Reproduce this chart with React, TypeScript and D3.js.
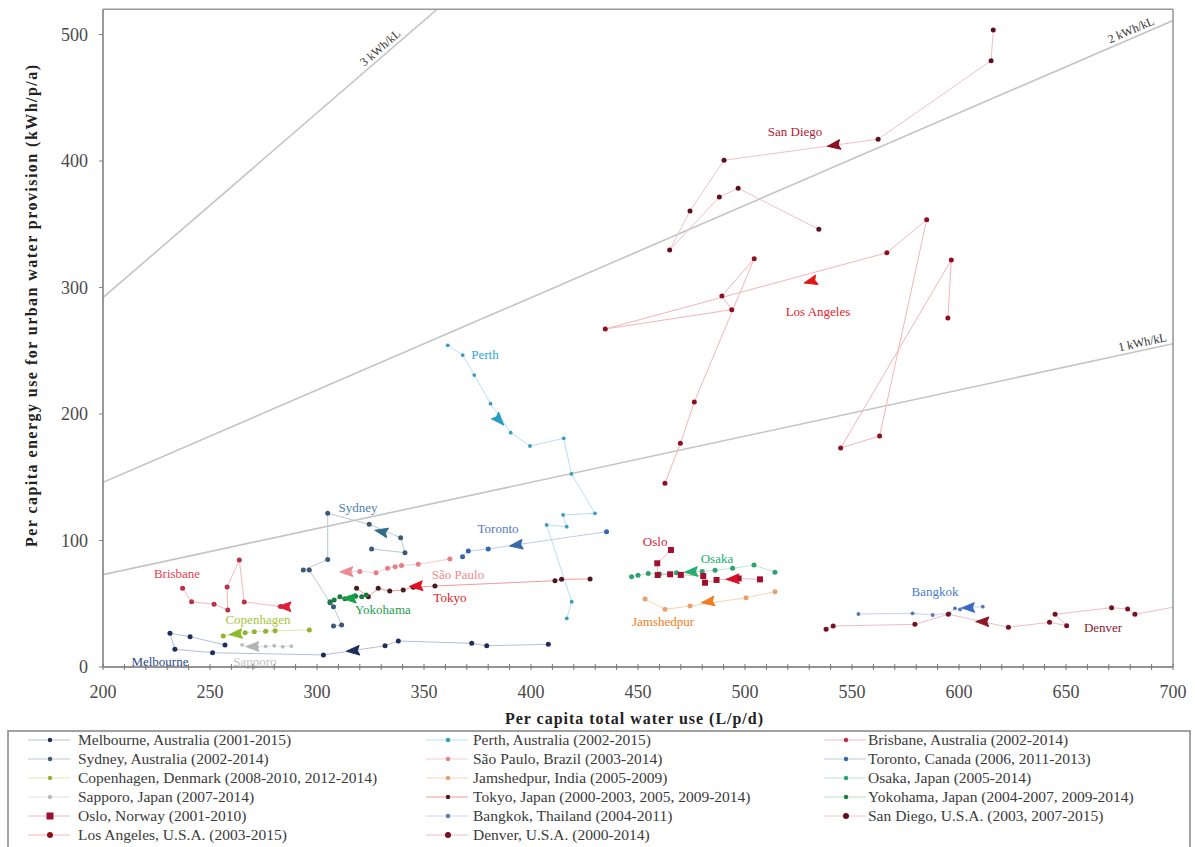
import React from "react";
import * as d3 from "d3";

// ---- axes ----
const xTickValues = [200, 250, 300, 350, 400, 450, 500, 550, 600, 650, 700];
const yTickValues = [0, 100, 200, 300, 400, 500];

// ---- energy-intensity guide lines (energy = factor x water use) ----
const guideFactors = [0.365, 0.73, 1.46];
const guideLabels = ["1 kWh/kL", "2 kWh/kL", "3 kWh/kL"];
const guideLabelAtX = [686.5, 681.8, 332];

// ---- city trajectories: [water use L/p/d, energy kWh/p/a] ----
const melbourne: [number, number][] = [
  [408.1, 17.9], [379.3, 16.8], [372.3, 18.7], [338, 20.6], [331.8, 16.8], [303, 9.5],
  [251.2, 11.3], [233.6, 14], [231.3, 26.6], [240.7, 24], [257, 17.4],
];
const perth: [number, number][] = [
  [416.7, 38.4], [419, 51.6], [407.3, 112.3], [416.7, 110.9], [415, 120.2], [429.9, 121.5],
  [418.9, 152.6], [415.3, 180.8], [399.5, 174.7], [390.5, 185.2], [381.1, 208.2],
  [373.5, 230.8], [368.1, 246.6], [361.1, 254.3],
];
const brisbane: [number, number][] = [
  [237.2, 62.2], [241.4, 51.6], [251.9, 49.6], [258.3, 45.1], [258, 63.2], [263.7, 84.6],
  [266, 51.4], [283, 47.8],
];
const sydney: [number, number][] = [
  [307.7, 32.4], [311.5, 33.2], [307.7, 47.7], [306.1, 50.8], [296.4, 76.7], [293.6, 76.7],
  [305, 85], [305, 121.5], [324.4, 112.8], [339.1, 102.2], [341.1, 90.4], [325.5, 93.3],
];
const saoPaulo: [number, number][] = [
  [362.1, 85.4], [347.3, 81.2], [339.5, 80.3], [336.5, 79.3], [333, 78], [327.6, 74.6],
  [320, 75.5], [313.9, 75.3],
];
const toronto: [number, number][] = [
  [435.3, 107], [380, 93.3], [370.7, 91.7], [368, 87.2],
];
const copenhagen: [number, number][] = [
  [296.4, 29.2], [280.4, 28.7], [276, 28.3], [270.7, 27.9], [266.4, 27.1], [256.2, 24.5],
];
const jamshedpur: [number, number][] = [
  [514, 59.5], [500.5, 54.8], [474.3, 48.2], [462.6, 45.6], [453.3, 53.8],
];
const osaka: [number, number][] = [
  [514, 75], [504.2, 80.6], [494.2, 78], [486, 76.5], [480, 75.5], [468, 74.6],
  [460, 73.5], [454.8, 74], [450, 72.5], [447, 71.4],
];
const sapporo: [number, number][] = [
  [288, 16.5], [284, 16], [280, 16.8], [276, 16.3], [272, 15.8], [268.7, 16], [265, 17.5],
];
const tokyo: [number, number][] = [
  [427.6, 69.6], [414.3, 69.3], [411.2, 68.2], [355.1, 64], [345, 63], [340.3, 60.9],
  [334, 60], [328.6, 62.2], [324, 55.6], [318.5, 62.2],
];
const yokohama: [number, number][] = [
  [323, 57], [320.9, 55.6], [318, 56], [315, 54.5], [313, 54], [310.7, 55.6], [308, 53],
  [306.1, 51.6],
];
const oslo: [number, number][] = [
  [465.4, 92.5], [459, 82], [459.2, 72.7], [465, 73.3], [470, 72.8], [480.5, 71.9],
  [481.3, 66.6], [486.7, 68.8], [497, 70], [507, 69.3],
];
const bangkok: [number, number][] = [
  [611.1, 47.7], [605, 47.2], [600.5, 45.5], [598.1, 46.4], [595.5, 42.4], [587.7, 41.1],
  [578.3, 42.4], [553, 41.9],
];
const sanDiego: [number, number][] = [
  [616, 503.6], [615, 479.3], [562.2, 417.2], [490.2, 400.6], [474.3, 360.5],
  [464.8, 329.6], [488, 371.5], [496.8, 378.4], [534.5, 346],
];
const losAngeles: [number, number][] = [
  [462.6, 145.2], [469.8, 176.8], [476.3, 209.5], [504.3, 322.8], [489.2, 293.3],
  [493.8, 282.5], [434.7, 267.2], [566.3, 327.5], [584.9, 353.6], [562.9, 182.6],
  [544.7, 173.1], [596.4, 321.7], [594.8, 275.9],
];
const denver: [number, number][] = [
  [712, 51], [682.2, 41.7], [678.8, 45.8], [671.3, 46.9], [644.9, 41.7], [650.3, 32.7],
  [642.3, 35.3], [623.1, 31.4], [595, 41.7], [579.4, 33.7], [541.2, 32.4], [537.9, 29.8],
];

// trend arrow per city: [x, y, toward x, toward y]
const trendArrows: [number, number, number, number][] = [
  [317, 12.9, 305, 11.5],
  [385.1, 195.3, 390.5, 185.2],
  [285, 47.7, 275, 48],
  [330.2, 107, 322, 110],
  [313.9, 75.3, 305, 75],
  [393.3, 96.4, 385, 94.5],
  [262.2, 26.1, 255, 25],
  [482.9, 51.6, 476, 50],
  [475, 75.3, 468, 74.6],
  [270, 16.2, 262, 16],
  [346.5, 64, 338, 63],
  [315.4, 54.3, 308, 54],
  [494.4, 69.5, 487, 69],
  [604.4, 46.9, 597, 46.5],
  [541.7, 412.4, 532, 410],
  [530.8, 304.9, 520, 300],
  [611.1, 35.8, 603, 36],
];

const cityNames = [
  "Melbourne", "Perth", "Brisbane", "Sydney", "São Paulo", "Toronto",
  "Copenhagen", "Jamshedpur", "Osaka", "Sapporo", "Tokyo", "Yokohama",
  "Oslo", "Bangkok", "San Diego", "Los Angeles", "Denver",
];
const legendLabels = [
  "Melbourne, Australia (2001-2015)", "Perth, Australia (2002-2015)", "Brisbane, Australia (2002-2014)",
  "Sydney, Australia (2002-2014)", "São Paulo, Brazil (2003-2014)", "Toronto, Canada (2006, 2011-2013)",
  "Copenhagen, Denmark (2008-2010, 2012-2014)", "Jamshedpur, India (2005-2009)", "Osaka, Japan (2005-2014)",
  "Sapporo, Japan (2007-2014)", "Tokyo, Japan (2000-2003, 2005, 2009-2014)", "Yokohama, Japan (2004-2007, 2009-2014)",
  "Oslo, Norway (2001-2010)", "Bangkok, Thailand (2004-2011)", "San Diego, U.S.A. (2003, 2007-2015)",
  "Los Angeles, U.S.A. (2003-2015)", "Denver, U.S.A. (2000-2014)",
];
// where each city name is written, in data units
const cityLabelAnchors: [number, number][] = [
  [226.6, 4.7], [378.5, 247.4], [234.6, 74.3], [319.2, 126.5], [365.9, 73.5], [384.6, 109.9],
  [272.4, 37.2], [461.7, 36.4], [486.9, 86.2], [271, 4.7], [362.1, 55.3], [330.8, 45.8],
  [458, 99.6], [588.8, 60.1], [523.4, 423.7], [534.1, 281.4], [667.3, 31.6],
];

const seriesPoints = [
  melbourne, perth, brisbane, sydney, saoPaulo, toronto, copenhagen, jamshedpur, osaka,
  sapporo, tokyo, yokohama, oslo, bangkok, sanDiego, losAngeles, denver,
];

// ---- styling ----
const lineColors = [
  "#b4c0d8", "#b8e0f0", "#f6b8c0", "#bcc8d4", "#f8cccc", "#bccde8", "#dfeab4", "#f8d4b4", "#bce6d4",
  "#e4e4e4", "#ee9c9c", "#b8e0c4", "#f4b8c0", "#c8d4ec", "#f4bec6", "#f5b4b6", "#ecbec6",
];
const markerColors = [
  "#1f2f5c", "#3a9cc0", "#b63445", "#3a5a78", "#e58080", "#3565ab", "#93b232", "#eaa070", "#2fa070",
  "#bcbcbc", "#4a1a22", "#1a7a40", "#a0102e", "#5577bb", "#5e1020", "#8e1020", "#761022",
];
const arrowColors = [
  "#1f2f5c", "#2a9cc0", "#e0203a", "#2f6f8a", "#ee8a92", "#3a6aa8", "#8cba2a", "#f07d1e", "#22b070",
  "#b4b4b4", "#e01020", "#18a048", "#d81028", "#3a6ac0", "#8b1020", "#e01818", "#8b1828",
];
const labelColors = [
  "#2b4a8b", "#2aa7df", "#e8404c", "#4a7fa8", "#f08a8a", "#5578c8", "#a8c43c", "#f07d1e", "#22b070",
  "#c4c4c4", "#d81e28", "#1e9e50", "#d0243c", "#4a7ccc", "#b02030", "#e8202a", "#8b2030",
];
const squareMarker = [false, false, false, false, false, false, false, false, false,
  false, false, false, true, false, false, false, false];

const SERIF = "'Liberation Serif', 'DejaVu Serif', serif";

export default function App() {
  const left = 103, right = 1173, top = 9.2, bottom = 667;
  const x = d3.scaleLinear().domain([200, 700]).range([left, right]);
  const y = d3.scaleLinear().domain([0, 520]).range([bottom, top]);
  const line = d3.line<[number, number]>().x((d) => x(d[0])).y((d) => y(d[1]));

  const minorTicks = d3.range(200, 701, 10);

  const legendRows = 6;
  const colMarker = [50, 448, 846];
  const colText = [78, 473, 868];
  const rowY = (r: number) => 740 + r * 19;

  return (
    <svg
      width={1195}
      height={847}
      style={{ position: "absolute", left: 0, top: 0, background: "#fff" }}
      fontFamily={SERIF}
    >
      <defs>
        <clipPath id="plot-area">
          <rect x={left} y={top} width={right - left} height={bottom - top} />
        </clipPath>
      </defs>
      <rect x={0} y={0} width={1195} height={847} fill="#fff" />

      {/* guide lines */}
      <g clipPath="url(#plot-area)">
        {guideFactors.map((f, i) => {
          const xEnd = Math.min(700, 520 / f);
          return (
            <line
              key={i}
              x1={x(200)}
              y1={y(200 * f)}
              x2={x(xEnd)}
              y2={y(xEnd * f)}
              stroke="#c4c4c4"
              strokeWidth={1.6}
            />
          );
        })}
      </g>
      {guideFactors.map((f, i) => {
        const gx = guideLabelAtX[i];
        const px = x(gx), py = y(gx * f);
        const ang = (Math.atan2(y((gx + 10) * f) - py, x(gx + 10) - px) * 180) / Math.PI;
        return (
          <text
            key={i}
            transform={`translate(${px},${py}) rotate(${ang})`}
            dy={-4}
            textAnchor="middle"
            fontSize={12}
            fill="#333"
          >
            {guideLabels[i]}
          </text>
        );
      })}

      {/* trajectories */}
      <g clipPath="url(#plot-area)">
        {seriesPoints.map((pts, i) => (
          <path
            key={i}
            d={line(pts) || ""}
            fill="none"
            stroke={lineColors[i]}
            strokeWidth={1}
          />
        ))}
        {seriesPoints.map((pts, i) =>
          pts.map((p, j) =>
            squareMarker[i] ? (
              <rect
                key={`${i}-${j}`}
                x={x(p[0]) - 3}
                y={y(p[1]) - 3}
                width={6}
                height={6}
                fill={markerColors[i]}
              />
            ) : (
              <circle
                key={`${i}-${j}`}
                cx={x(p[0])}
                cy={y(p[1])}
                r={i === 1 || i === 13 || i === 9 ? 1.9 : 2.5}
                fill={markerColors[i]}
              />
            )
          )
        )}
        {trendArrows.map((a, i) => {
          const px = x(a[0]), py = y(a[1]);
          const ang = (Math.atan2(y(a[3]) - py, x(a[2]) - px) * 180) / Math.PI;
          return (
            <path
              key={i}
              transform={`translate(${px},${py}) rotate(${ang})`}
              d="M7,0 L-6,-4.8 L-4,0 L-6,4.8 Z"
              fill={arrowColors[i]}
              stroke={arrowColors[i]}
              strokeWidth={1}
              strokeLinejoin="round"
            />
          );
        })}
      </g>

      {/* city names */}
      {cityLabelAnchors.map((c, i) => (
        <text
          key={i}
          x={x(c[0])}
          y={y(c[1])}
          dy="0.35em"
          textAnchor="middle"
          fontSize={13}
          fill={labelColors[i]}
        >
          {cityNames[i]}
        </text>
      ))}

      {/* frame */}
      <line x1={left} y1={top} x2={right} y2={top} stroke="#9a9a9a" strokeWidth={1.6} />
      <line x1={right} y1={top} x2={right} y2={bottom} stroke="#9a9a9a" strokeWidth={1.6} />
      <line x1={left} y1={top} x2={left} y2={bottom} stroke="#808080" strokeWidth={1.6} />
      <line x1={left} y1={bottom} x2={right} y2={bottom} stroke="#707070" strokeWidth={1.6} />

      {/* x ticks */}
      {minorTicks.map((t) => (
        <line
          key={t}
          x1={x(t)}
          x2={x(t)}
          y1={bottom - 3}
          y2={bottom + 3}
          stroke="#777"
          strokeWidth={1}
        />
      ))}
      {xTickValues.map((t) => (
        <text key={t} x={x(t)} y={698} textAnchor="middle" fontSize={18} fill="#4a4a4a">
          {t}
        </text>
      ))}
      {/* y ticks */}
      {yTickValues.map((t) => (
        <g key={t}>
          <line x1={left - 4} x2={left} y1={y(t)} y2={y(t)} stroke="#888" strokeWidth={1} />
          <text x={88} y={y(t)} dy="0.35em" textAnchor="end" fontSize={18} fill="#4a4a4a">
            {t}
          </text>
        </g>
      ))}

      {/* axis titles */}
      <text
        x={634}
        y={724}
        textAnchor="middle"
        fontSize={16}
        fontWeight="bold"
        fill="#222"
        textLength={258}
        lengthAdjust="spacing"
      >
        Per capita total water use (L/p/d)
      </text>
      <text
        transform="translate(37,306) rotate(-90)"
        textAnchor="middle"
        fontSize={16}
        fontWeight="bold"
        fill="#222"
        textLength={482}
        lengthAdjust="spacing"
      >
        Per capita energy use for urban water provision (kWh/p/a)
      </text>

      {/* legend */}
      <rect x={8} y={731} width={1182} height={130} fill="#fff" stroke="#8a8a8a" strokeWidth={1.6} />
      {legendLabels.map((lab, i) => {
        const col = i % 3;
        const row = Math.floor(i / 3);
        if (row >= legendRows) return null;
        const cy = rowY(row);
        const mx = colMarker[col];
        return (
          <g key={i}>
            <line x1={mx - 22} x2={mx + 20} y1={cy} y2={cy} stroke={lineColors[i]} strokeWidth={1} />
            {squareMarker[i] ? (
              <rect x={mx - 3.5} y={cy - 3.5} width={7} height={7} fill={markerColors[i]} />
            ) : (
              <circle cx={mx} cy={cy} r={i === 15 || i === 14 || i === 16 ? 3 : 2.2} fill={markerColors[i]} />
            )}
            <text x={colText[col]} y={cy} dy="0.35em" fontSize={15.5} fill="#3a3a3a">
              {lab}
            </text>
          </g>
        );
      })}
    </svg>
  );
}
